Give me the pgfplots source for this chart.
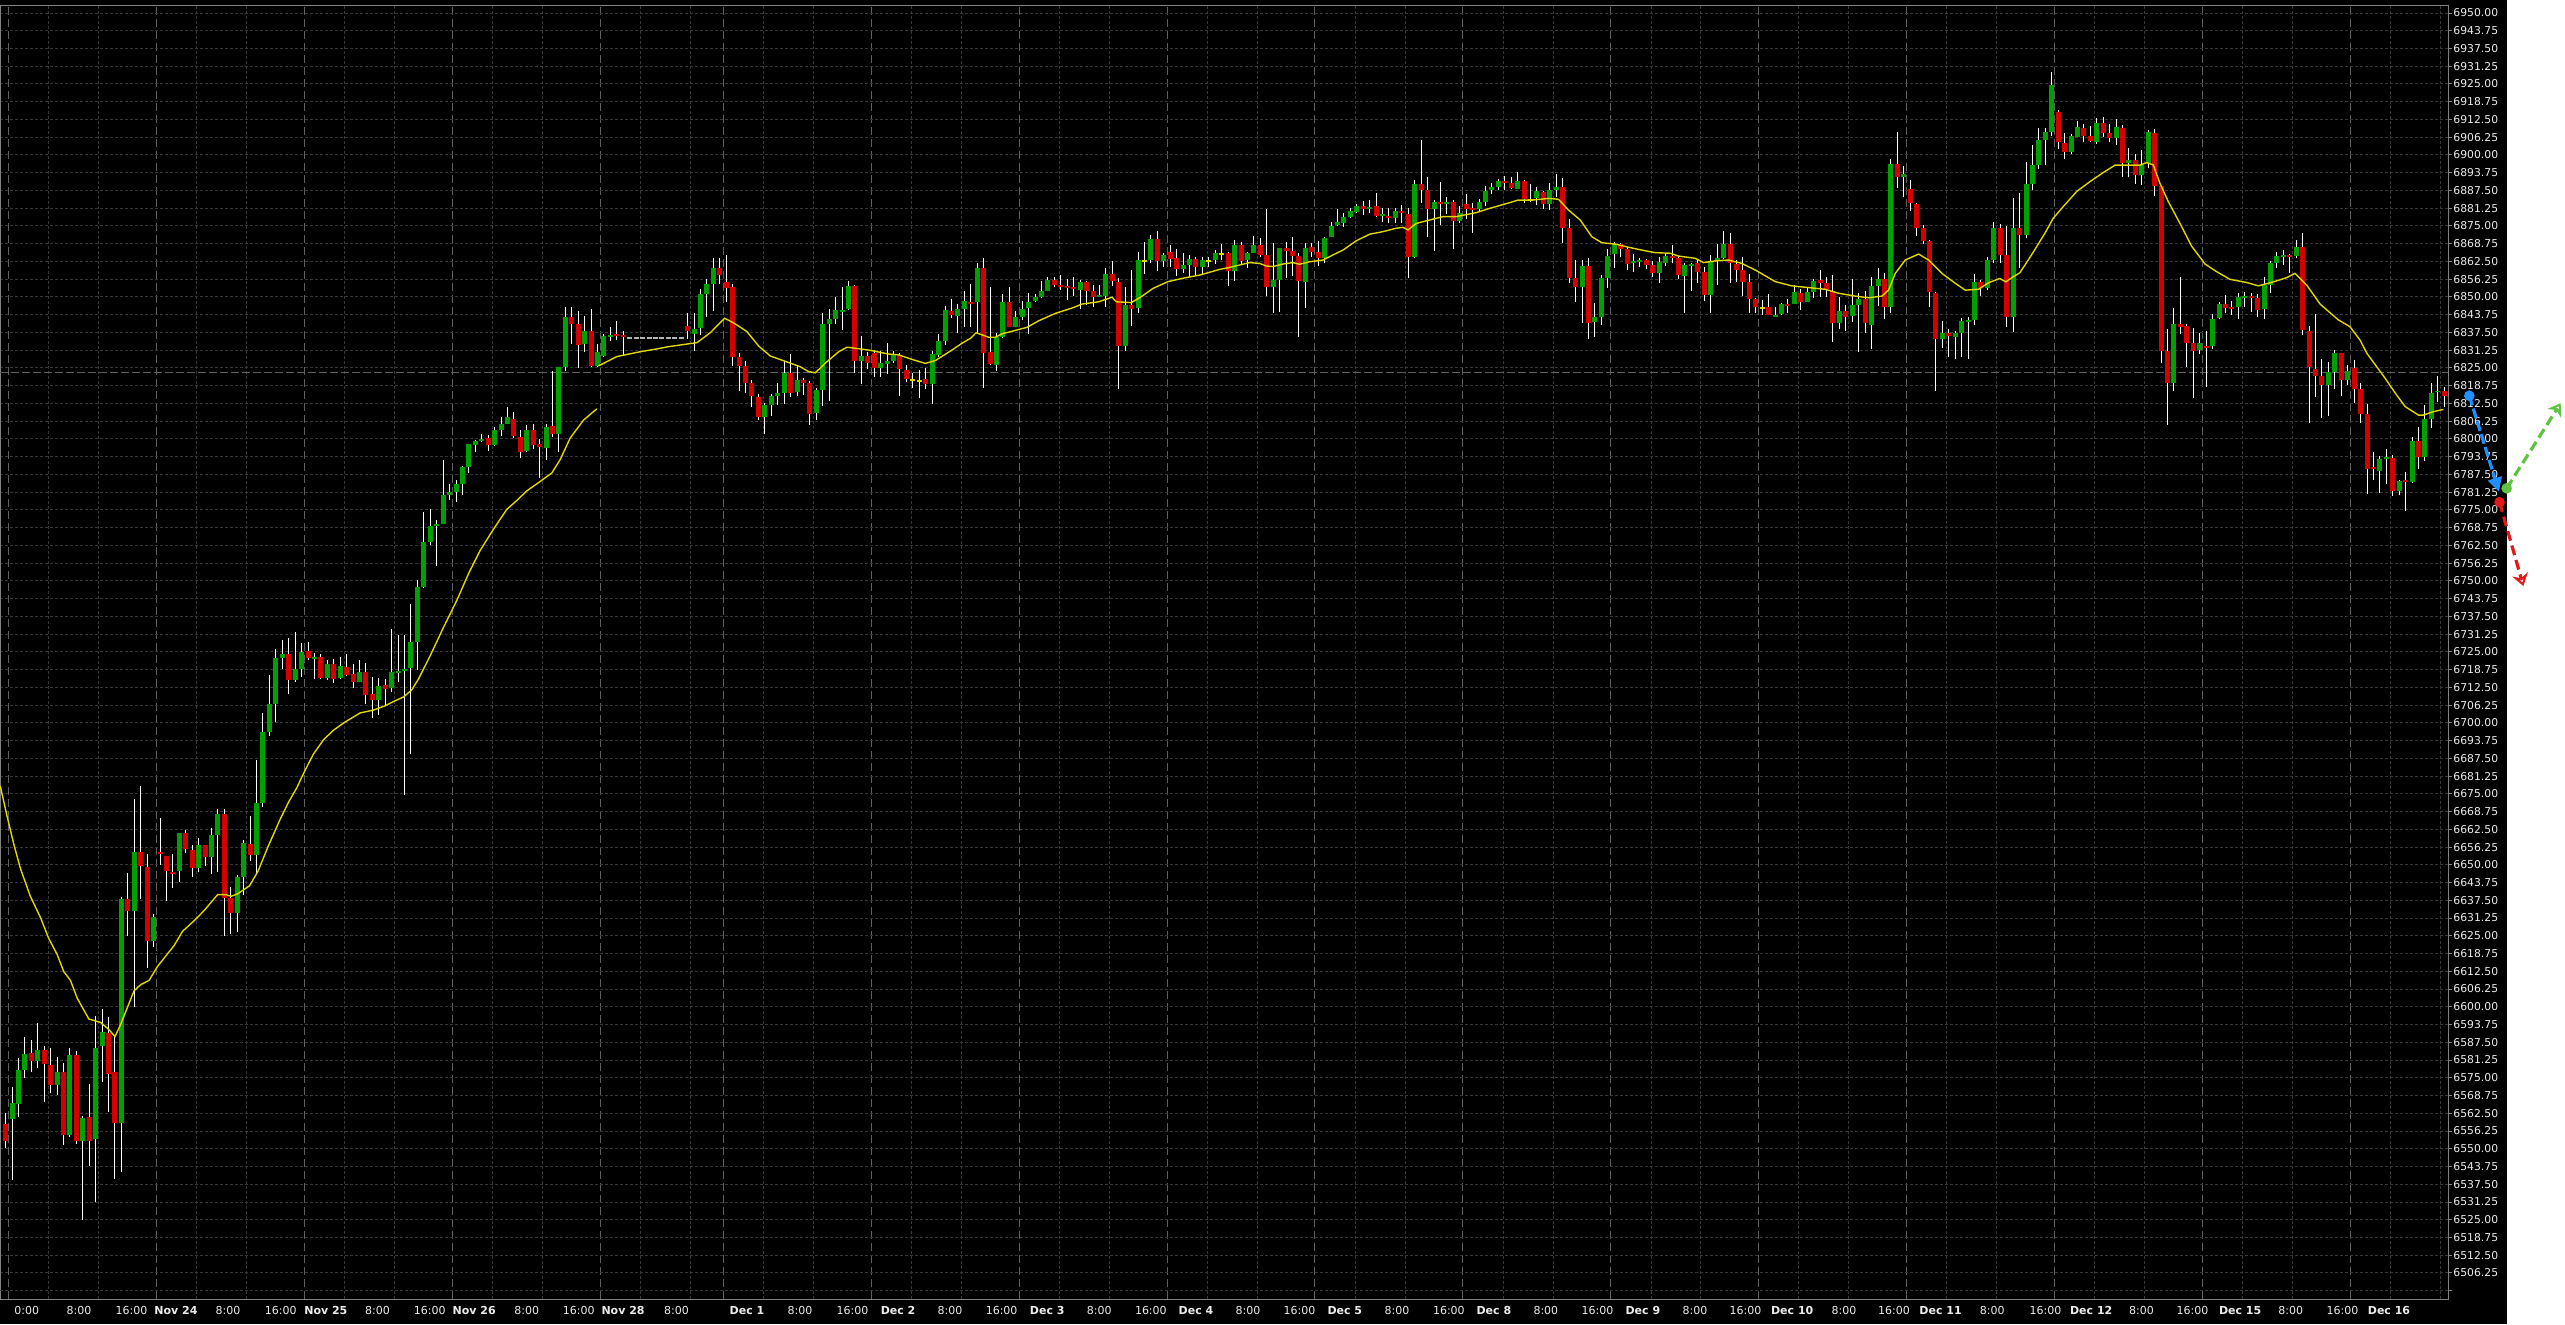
\documentclass[border=0pt]{standalone}
\usepackage{fontspec}
\setmainfont{DejaVu Sans}
\usepackage{pgfplots}
\pgfplotsset{compat=1.18}
\usepackage{pgfplotstable}
\usetikzlibrary{arrows.meta}
\definecolor{cgreen}{RGB}{0,160,0}
\definecolor{cred}{RGB}{212,0,0}
\definecolor{cma}{RGB}{225,215,0}
\definecolor{cgrid}{RGB}{55,55,55}
\definecolor{cday}{RGB}{95,95,95}
\definecolor{cframe}{RGB}{130,130,130}
\definecolor{clabel}{RGB}{235,235,235}
\definecolor{cflat}{RGB}{180,180,180}
\definecolor{ablue}{RGB}{30,144,255}
\definecolor{agreen}{RGB}{95,195,65}
\definecolor{ared}{RGB}{225,25,25}

\pgfplotstableread{
k o h l c
0 6558.6 6562.6 6550.2 6552.7
1 6560.4 6571.8 6538.9 6566.0
2 6565.8 6581.9 6561.3 6577.8
3 6577.8 6589.3 6575.1 6583.3
4 6583.8 6588.3 6576.9 6580.9
5 6580.9 6594.2 6578.4 6584.8
6 6584.8 6586.2 6566.3 6580.0
7 6579.5 6585.6 6569.5 6572.5
8 6572.5 6582.4 6569.1 6576.9
9 6576.9 6580.3 6551.5 6554.7
10 6554.7 6585.4 6554.3 6583.1
11 6583.1 6584.6 6551.8 6552.9
12 6552.9 6561.6 6524.9 6560.9
13 6561.1 6572.8 6544.0 6552.9
14 6553.4 6596.7 6531.4 6585.6
15 6586.1 6599.1 6573.4 6591.0
16 6590.8 6596.3 6562.8 6576.5
17 6576.9 6590.1 6539.5 6558.9
18 6558.9 6638.7 6541.8 6637.9
19 6637.9 6647.2 6625.1 6633.6
20 6633.9 6673.1 6600.1 6654.6
21 6654.6 6677.8 6637.9 6649.7
22 6649.3 6653.7 6613.8 6623.0
23 6623.0 6632.7 6621.0 6631.5
24 6654.6 6666.6 6650.0 6653.7
25 6653.0 6653.0 6637.2 6647.7
26 6647.7 6653.9 6642.0 6646.9
27 6647.7 6661.2 6643.9 6661.2
28 6661.2 6662.3 6654.0 6655.7
29 6655.2 6657.1 6645.7 6648.8
30 6648.8 6659.6 6647.6 6657.1
31 6657.1 6657.1 6649.7 6652.8
32 6652.8 6663.0 6646.7 6660.5
33 6660.5 6669.6 6647.6 6668.0
34 6668.0 6669.7 6625.1 6638.2
35 6638.2 6642.3 6625.6 6633.2
36 6633.0 6646.3 6626.2 6645.6
37 6645.7 6658.7 6639.3 6657.7
38 6657.5 6667.3 6651.5 6653.3
39 6653.6 6686.8 6646.6 6671.8
40 6671.8 6703.6 6670.2 6696.8
41 6696.8 6716.7 6695.5 6706.5
42 6706.5 6725.9 6700.2 6722.7
43 6722.8 6729.2 6718.8 6724.1
44 6724.1 6729.9 6710.0 6715.0
45 6715.0 6732.1 6714.5 6718.8
46 6718.8 6728.0 6716.3 6725.1
47 6725.4 6728.6 6722.3 6722.7
48 6722.6 6724.6 6715.4 6723.3
49 6723.3 6724.3 6715.4 6715.8
50 6715.8 6722.3 6715.0 6720.8
51 6720.8 6722.6 6714.0 6715.4
52 6715.8 6723.1 6715.4 6720.1
53 6719.8 6724.1 6716.5 6717.0
54 6717.3 6720.6 6712.3 6714.3
55 6714.3 6722.3 6714.3 6717.8
56 6718.0 6721.1 6706.5 6709.8
57 6710.0 6716.0 6701.7 6708.2
58 6707.9 6715.8 6702.7 6713.1
59 6713.5 6715.3 6706.0 6712.0
60 6712.3 6732.9 6711.0 6717.8
61 6717.5 6730.9 6714.5 6718.3
62 6718.3 6730.9 6674.6 6719.1
63 6719.2 6741.7 6688.9 6728.6
64 6728.6 6750.2 6718.6 6747.7
65 6747.7 6774.4 6747.5 6763.8
66 6763.8 6775.2 6762.8 6769.5
67 6769.4 6771.6 6755.3 6769.9
68 6769.9 6792.5 6769.9 6780.4
69 6780.4 6784.2 6778.4 6781.2
70 6781.2 6785.5 6777.9 6784.0
71 6784.0 6790.5 6780.2 6790.0
72 6790.0 6798.2 6788.0 6798.2
73 6797.8 6799.7 6795.5 6799.4
74 6799.5 6801.8 6799.0 6800.0
75 6800.3 6801.3 6795.9 6797.8
76 6797.8 6804.3 6797.5 6803.3
77 6803.1 6807.8 6800.9 6805.1
78 6805.1 6811.1 6805.1 6807.6
79 6807.1 6809.4 6800.3 6801.2
80 6800.8 6803.1 6793.2 6795.5
81 6795.8 6804.8 6795.5 6803.3
82 6803.3 6805.3 6796.3 6798.0
83 6798.2 6799.8 6786.2 6797.0
84 6796.8 6805.1 6792.7 6804.1
85 6804.4 6823.9 6800.5 6801.9
86 6801.9 6825.4 6795.3 6825.2
87 6825.2 6846.6 6823.9 6843.0
88 6843.0 6846.6 6833.6 6840.5
89 6840.5 6845.1 6824.9 6833.2
90 6833.6 6843.3 6830.5 6838.0
91 6838.0 6845.6 6825.2 6825.7
92 6825.7 6833.5 6825.4 6830.5
93 6829.2 6837.0 6829.0 6836.4
94 6836.0 6839.5 6834.5 6836.5
95 6837.0 6841.5 6834.8 6836.5
96 6836.2 6838.0 6829.5 6836.0
106 6839.8 6844.2 6835.3 6838.0
107 6837.1 6844.2 6831.1 6838.8
108 6839.2 6852.7 6836.5 6851.0
109 6851.0 6856.2 6843.1 6854.6
110 6854.6 6863.7 6845.2 6860.2
111 6860.2 6863.7 6854.6 6857.7
112 6855.3 6864.8 6848.2 6853.2
113 6853.4 6854.4 6825.8 6829.0
114 6829.0 6830.1 6816.9 6825.8
115 6825.8 6827.3 6816.1 6819.7
116 6819.7 6820.7 6811.3 6815.2
117 6814.6 6815.8 6806.7 6807.7
118 6807.7 6812.5 6801.9 6811.8
119 6811.8 6815.8 6808.2 6815.1
120 6815.1 6819.6 6811.9 6816.3
121 6816.1 6827.5 6812.2 6823.1
122 6823.1 6829.9 6814.9 6816.3
123 6816.5 6825.7 6815.1 6820.8
124 6820.8 6821.6 6815.6 6819.7
125 6819.7 6820.5 6805.0 6808.9
126 6809.1 6817.8 6806.7 6817.2
127 6817.2 6844.2 6811.7 6840.5
128 6840.5 6845.6 6813.4 6842.2
129 6842.2 6849.9 6840.5 6845.4
130 6845.0 6853.6 6838.4 6845.7
131 6845.7 6855.6 6845.4 6853.9
132 6853.9 6854.2 6823.1 6827.4
133 6827.4 6836.3 6819.3 6829.2
134 6829.2 6830.7 6824.6 6826.6
135 6830.4 6831.3 6821.7 6825.1
136 6825.1 6831.1 6821.9 6826.6
137 6826.4 6833.7 6822.9 6827.4
138 6827.4 6831.1 6826.6 6829.4
139 6829.4 6830.1 6815.2 6824.5
140 6824.3 6825.9 6820.2 6821.2
141 6820.7 6823.1 6817.9 6820.7
142 6820.4 6824.3 6814.3 6820.4
143 6821.1 6824.9 6817.5 6819.5
144 6819.5 6831.1 6812.2 6829.9
145 6829.7 6837.0 6829.0 6834.5
146 6834.5 6846.8 6833.1 6845.4
147 6845.0 6849.2 6842.7 6843.6
148 6843.3 6847.5 6837.2 6845.6
149 6845.6 6852.2 6839.3 6848.6
150 6848.3 6854.6 6839.5 6847.7
151 6848.3 6862.1 6837.2 6860.1
152 6860.1 6863.6 6817.8 6830.4
153 6830.6 6853.6 6826.0 6826.4
154 6826.2 6837.2 6824.0 6835.8
155 6835.8 6851.0 6835.7 6848.2
156 6848.2 6853.4 6839.3 6839.5
157 6839.5 6845.2 6839.3 6842.8
158 6842.8 6848.7 6841.9 6845.6
159 6846.2 6851.3 6837.0 6848.2
160 6848.5 6851.0 6848.1 6849.9
161 6849.9 6855.7 6849.5 6852.0
162 6852.0 6857.1 6852.0 6856.0
163 6856.0 6857.1 6853.6 6854.2
164 6854.2 6857.7 6852.5 6853.6
165 6853.9 6856.2 6848.9 6853.3
166 6853.5 6856.9 6850.3 6852.7
167 6852.4 6856.0 6845.6 6855.3
168 6855.3 6855.7 6847.2 6852.2
169 6852.1 6854.2 6846.3 6850.1
170 6850.0 6854.2 6849.9 6850.6
171 6850.3 6860.1 6846.6 6858.1
172 6858.1 6862.5 6853.9 6855.7
173 6855.3 6856.6 6817.5 6832.7
174 6832.7 6853.6 6831.1 6847.0
175 6847.0 6859.5 6839.8 6845.9
176 6846.2 6866.0 6844.5 6863.0
177 6862.8 6869.3 6858.1 6862.8
178 6863.0 6871.7 6862.1 6870.4
179 6870.4 6873.2 6859.2 6862.8
180 6862.8 6865.6 6860.7 6864.8
181 6865.8 6868.3 6860.7 6863.5
182 6863.7 6866.8 6857.4 6859.7
183 6859.7 6865.4 6858.6 6861.1
184 6861.1 6864.8 6856.9 6863.2
185 6863.2 6864.2 6857.4 6860.7
186 6860.7 6863.9 6858.1 6863.0
187 6862.8 6864.2 6860.7 6862.8
188 6863.0 6866.5 6861.6 6865.4
189 6865.2 6868.6 6863.0 6865.2
190 6865.6 6865.8 6854.0 6859.2
191 6859.2 6870.1 6855.7 6868.3
192 6868.3 6869.3 6861.6 6862.8
193 6863.0 6866.0 6860.1 6865.6
194 6865.6 6871.5 6865.6 6868.3
195 6868.3 6870.8 6864.2 6864.8
196 6864.8 6880.9 6850.3 6853.6
197 6853.6 6868.9 6844.5 6856.0
198 6856.0 6867.2 6844.8 6867.2
199 6867.2 6869.3 6856.6 6866.3
200 6866.2 6871.0 6857.4 6864.5
201 6864.5 6865.6 6836.0 6855.7
202 6855.4 6868.9 6846.0 6867.2
203 6867.6 6868.9 6864.2 6866.0
204 6866.0 6869.8 6860.9 6863.8
205 6863.8 6871.2 6861.8 6870.8
206 6871.0 6876.5 6871.0 6875.0
207 6875.2 6880.9 6875.0 6876.4
208 6876.2 6879.5 6874.7 6878.0
209 6878.0 6881.2 6877.8 6880.3
210 6880.0 6882.7 6879.7 6882.0
211 6882.0 6883.9 6878.9 6881.1
212 6881.1 6884.1 6879.4 6881.9
213 6881.9 6886.5 6878.3 6878.6
214 6878.6 6881.3 6876.5 6879.1
215 6878.7 6881.3 6875.9 6877.9
216 6877.9 6881.3 6875.9 6880.3
217 6880.3 6882.3 6875.9 6879.7
218 6879.2 6881.2 6856.6 6864.2
219 6864.2 6891.2 6863.6 6889.8
220 6889.8 6905.3 6883.2 6887.7
221 6887.7 6892.1 6871.0 6881.1
222 6881.1 6884.1 6866.3 6883.4
223 6883.4 6890.5 6875.3 6883.0
224 6883.0 6885.3 6879.2 6883.4
225 6883.4 6884.1 6866.8 6876.9
226 6876.9 6882.0 6876.2 6879.4
227 6882.6 6886.2 6877.3 6881.1
228 6881.3 6883.2 6872.6 6880.9
229 6881.1 6884.4 6880.4 6883.4
230 6883.4 6889.1 6882.0 6887.3
231 6887.8 6890.2 6886.2 6888.7
232 6888.7 6891.4 6887.7 6890.8
233 6890.8 6892.6 6887.7 6890.2
234 6890.2 6892.4 6887.9 6888.4
235 6888.1 6893.9 6887.9 6890.8
236 6890.8 6891.2 6883.2 6884.4
237 6884.1 6889.8 6883.4 6884.1
238 6884.8 6888.8 6882.4 6887.3
239 6887.0 6887.4 6881.1 6882.7
240 6882.7 6890.0 6880.6 6887.7
241 6887.6 6893.3 6885.3 6888.6
242 6888.6 6891.8 6869.1 6874.4
243 6874.4 6877.3 6855.0 6856.8
244 6856.8 6863.0 6848.3 6853.6
245 6853.6 6863.0 6840.9 6860.9
246 6860.9 6863.7 6835.1 6840.9
247 6841.1 6848.0 6836.0 6842.8
248 6842.8 6857.7 6840.1 6856.7
249 6856.7 6867.0 6853.0 6864.4
250 6865.1 6869.5 6860.1 6868.6
251 6868.6 6869.1 6864.0 6866.9
252 6866.9 6867.7 6859.5 6861.6
253 6862.1 6865.1 6858.8 6862.7
254 6862.4 6863.6 6860.7 6863.0
255 6863.0 6863.2 6859.9 6861.3
256 6861.3 6862.8 6857.1 6858.3
257 6858.3 6863.9 6855.0 6862.4
258 6862.1 6865.6 6860.9 6864.4
259 6864.2 6868.3 6861.8 6863.6
260 6863.6 6864.4 6856.2 6857.8
261 6857.5 6861.8 6844.5 6861.3
262 6861.0 6862.1 6852.2 6861.6
263 6861.8 6863.2 6855.0 6858.9
264 6858.8 6860.7 6848.7 6850.8
265 6850.8 6864.9 6844.5 6862.8
266 6863.0 6868.6 6854.2 6863.7
267 6863.7 6873.2 6863.2 6868.6
268 6868.6 6872.4 6855.0 6862.1
269 6861.6 6863.0 6855.4 6859.5
270 6859.5 6863.9 6850.3 6855.4
271 6855.3 6858.1 6844.5 6849.4
272 6849.2 6849.5 6844.5 6846.6
273 6846.2 6848.9 6843.6 6846.2
274 6846.3 6851.0 6843.6 6843.6
275 6843.2 6846.3 6843.0 6843.6
276 6844.0 6848.0 6843.6 6847.5
277 6847.5 6849.2 6844.5 6847.0
278 6847.5 6854.2 6847.5 6851.7
279 6851.5 6852.7 6845.4 6848.3
280 6848.2 6853.4 6848.2 6851.7
281 6851.7 6856.4 6849.8 6855.6
282 6856.0 6859.5 6850.1 6854.8
283 6854.8 6857.1 6850.1 6852.7
284 6852.2 6857.7 6834.2 6840.9
285 6840.9 6850.1 6838.8 6844.9
286 6844.9 6847.0 6838.1 6843.1
287 6843.3 6856.3 6841.3 6847.0
288 6847.1 6851.3 6830.7 6849.2
289 6849.2 6852.2 6837.4 6840.7
290 6840.2 6856.9 6831.8 6853.8
291 6853.8 6860.1 6846.8 6856.2
292 6856.2 6858.3 6842.1 6846.6
293 6846.6 6898.5 6844.5 6896.8
294 6896.8 6908.1 6888.2 6892.4
295 6892.4 6896.1 6885.1 6893.3
296 6887.9 6891.2 6880.4 6883.0
297 6882.7 6883.2 6871.5 6874.4
298 6874.4 6875.2 6868.6 6869.7
299 6869.7 6870.1 6846.3 6851.9
300 6851.3 6851.7 6817.0 6835.3
301 6835.3 6841.4 6832.0 6837.4
302 6837.4 6838.6 6829.0 6836.4
303 6836.0 6838.1 6828.3 6837.4
304 6837.4 6842.5 6828.7 6841.5
305 6841.2 6842.8 6828.3 6841.9
306 6841.9 6858.1 6840.1 6855.1
307 6855.4 6856.0 6850.3 6853.0
308 6853.0 6864.2 6852.4 6863.0
309 6863.0 6876.5 6861.8 6874.2
310 6874.2 6875.7 6862.1 6864.7
311 6864.7 6875.0 6839.3 6843.1
312 6843.1 6885.0 6837.8 6874.2
313 6874.2 6886.7 6860.1 6871.8
314 6871.8 6897.6 6870.6 6889.8
315 6889.8 6903.5 6887.7 6896.5
316 6896.5 6909.4 6894.9 6905.3
317 6905.3 6909.4 6896.5 6908.2
318 6908.2 6929.2 6906.7 6924.6
319 6915.1 6915.8 6902.0 6904.4
320 6904.1 6907.6 6898.5 6901.2
321 6901.2 6907.3 6900.4 6906.7
322 6906.4 6912.1 6906.2 6909.7
323 6909.5 6910.9 6904.4 6906.7
324 6906.7 6910.2 6904.4 6905.0
325 6904.7 6913.0 6903.9 6911.1
326 6911.1 6913.3 6906.2 6907.6
327 6907.6 6910.9 6904.4 6905.9
328 6905.9 6912.6 6903.5 6909.7
329 6909.5 6910.4 6892.1 6897.3
330 6897.3 6902.3 6892.1 6898.2
331 6898.2 6900.3 6889.8 6893.1
332 6893.1 6901.8 6889.5 6896.4
333 6897.1 6908.8 6895.3 6908.1
334 6907.6 6909.0 6885.7 6889.1
335 6889.1 6889.1 6826.6 6831.1
336 6831.1 6838.6 6805.0 6819.8
337 6819.6 6846.2 6816.8 6840.5
338 6840.5 6856.9 6837.0 6839.5
339 6839.8 6840.5 6825.4 6833.9
340 6833.9 6838.9 6814.5 6831.1
341 6831.3 6837.2 6829.9 6833.7
342 6832.8 6838.1 6818.4 6832.3
343 6832.8 6844.0 6831.5 6842.1
344 6842.7 6848.2 6842.1 6847.5
345 6847.5 6850.6 6844.2 6846.1
346 6846.5 6848.7 6843.6 6845.9
347 6846.5 6851.5 6842.1 6849.9
348 6849.9 6851.9 6846.6 6850.3
349 6850.3 6851.5 6844.8 6849.9
350 6849.7 6851.0 6843.1 6845.4
351 6845.8 6856.9 6842.1 6854.3
352 6854.3 6862.8 6851.5 6861.8
353 6862.1 6865.8 6860.1 6864.4
354 6864.2 6866.5 6861.3 6864.8
355 6864.5 6865.1 6858.6 6864.2
356 6864.5 6870.1 6863.6 6867.7
357 6867.5 6872.6 6836.6 6838.4
358 6838.0 6839.8 6805.7 6825.2
359 6824.6 6844.0 6814.9 6822.2
360 6822.2 6828.0 6807.5 6818.9
361 6818.9 6827.2 6808.1 6823.6
362 6823.6 6831.3 6817.5 6830.1
363 6830.1 6830.4 6815.1 6820.7
364 6820.7 6826.0 6819.0 6823.8
365 6824.9 6827.8 6812.5 6817.7
366 6817.5 6819.6 6805.5 6808.8
367 6808.8 6812.3 6780.6 6789.3
368 6789.9 6795.5 6785.5 6789.3
369 6788.8 6794.0 6781.1 6792.9
370 6793.0 6796.3 6784.1 6793.7
371 6793.3 6794.3 6779.9 6781.5
372 6781.8 6785.5 6780.1 6785.1
373 6785.5 6788.5 6774.7 6784.9
374 6784.9 6800.6 6784.6 6799.3
375 6799.3 6804.1 6789.5 6793.5
376 6793.5 6811.9 6792.3 6806.9
377 6806.9 6819.6 6804.0 6816.3
378 6816.5 6822.2 6813.1 6817.2
379 6817.0 6818.2 6811.1 6815.2
}\candles

\pgfplotstableread{
k p
97 6835.5
98 6835.5
99 6835.5
100 6835.5
101 6835.5
102 6835.5
103 6835.5
104 6835.5
105 6835.5
}\flat

\begin{document}
\begin{tikzpicture}[x=1pt,y=1pt]
\fill[white] (0,0) rectangle (1282.5,662);
\fill[black] (0,0) rectangle (1253.5,662);
\begin{axis}[
  at={(0pt,12.5pt)}, anchor=south west,
  scale only axis, width=1224pt, height=646.5pt,
  xmin=-0.87, xmax=379.6, ymin=6497.09, ymax=6952.47,
  clip=false,
  axis line style={cframe, line width=0.5pt},
  scaled y ticks=false,
  /pgf/number format/assume math mode=true,
  ytick={6506.25,6512.5,...,6950},
  extra y ticks={6500}, extra y tick labels={},
  ytick pos=right, yticklabel pos=right,
  ytick align=outside, major tick length=2pt,
  ytick style={cframe, line width=0.5pt},
  yticklabel style={font=\fontsize{5.4}{6}\selectfont, text=clabel, anchor=west, inner sep=0pt, xshift=0.5pt,
    /pgf/number format/fixed, /pgf/number format/fixed zerofill, /pgf/number format/precision=2, /pgf/number format/1000 sep={}},
  ymajorgrids,
  major y grid style={cgrid, line width=0.5pt, dash pattern=on 1.5pt off 1pt},
  xtick={0.5,23.5,46.5,69.5,92.5,111.5,134.5,157.5,180.5,203.5,226.5,249.5,272.5,295.5,318.5,341.5,364.5},
  xticklabels={},
  xmajorgrids,
  major x grid style={cday, line width=0.5pt, dash pattern=on 4pt off 2pt},
  minor xtick={6.72,14.49,29.72,37.49,52.72,60.49,75.72,83.49,98.72,106.49,117.72,125.49,140.72,148.49,163.72,171.49,186.72,194.49,209.72,217.49,232.72,240.49,255.72,263.49,278.72,286.49,301.72,309.49,324.72,332.49,347.72,355.49,370.72,378.49},
  xminorgrids,
  minor x grid style={cgrid, line width=0.5pt, dash pattern=on 1.5pt off 1pt},
  xtick style={draw=none},
  minor tick length=0pt,
  extra x ticks={3.28,11.41,19.57,26.48,34.57,42.76,49.77,57.80,65.92,72.83,80.99,89.07,95.96,104.27,115.23,123.47,131.61,138.70,146.78,154.80,161.89,169.96,177.99,185.00,193.08,201.10,208.14,216.23,224.31,231.30,239.38,247.42,254.46,262.57,270.42,277.67,285.73,293.49,300.73,308.74,317.02,324.14,331.94,339.87,347.28,355.16,363.18,370.42},
  extra x tick labels={0:00,8:00,16:00,\textbf{Nov 24},8:00,16:00,\textbf{Nov 25},8:00,16:00,\textbf{Nov 26},8:00,16:00,\textbf{Nov 28},8:00,\textbf{Dec 1},8:00,16:00,\textbf{Dec 2},8:00,16:00,\textbf{Dec 3},8:00,16:00,\textbf{Dec 4},8:00,16:00,\textbf{Dec 5},8:00,16:00,\textbf{Dec 8},8:00,16:00,\textbf{Dec 9},8:00,16:00,\textbf{Dec 10},8:00,16:00,\textbf{Dec 11},8:00,16:00,\textbf{Dec 12},8:00,16:00,\textbf{Dec 15},8:00,16:00,\textbf{Dec 16}},
  extra x tick style={grid=none, major tick length=0pt,
    xticklabel style={font=\fontsize{5.5}{6}\selectfont, text=clabel, anchor=north, inner sep=0pt, yshift=-3.5pt}},
]
% reference level line
\addplot[cday, line width=0.5pt, dash pattern=on 4pt off 1.5pt, forget plot] coordinates {(-0.87,6823.4) (379.6,6823.4)};
% wicks (low to high)
\addplot[forget plot, white, line width=0.5pt, quiver={u=0, v={max(\thisrow{h}-\thisrow{l},0.4)}}]
  table[x=k, y=l]{\candles};
% green bodies
\addplot[forget plot, cgreen, line width=2.5pt,
  restrict expr to domain={\thisrow{c}-\thisrow{o}}{0.001:10000},
  quiver={u=0, v={max(\thisrow{c}-\thisrow{o},0.7)}}]
  table[x=k, y expr={min(\thisrow{o},(\thisrow{o}+\thisrow{c})/2-0.35)}]{\candles};
% red bodies
\addplot[forget plot, cred, line width=2.5pt,
  restrict expr to domain={\thisrow{o}-\thisrow{c}}{0.001:10000},
  quiver={u=0, v={max(\thisrow{o}-\thisrow{c},0.7)}}]
  table[x=k, y expr={min(\thisrow{c},(\thisrow{o}+\thisrow{c})/2-0.35)}]{\candles};
% doji bodies
\addplot[forget plot, cma, line width=2.5pt,
  restrict expr to domain={abs(\thisrow{c}-\thisrow{o})}{-0.001:0.001},
  quiver={u=0, v=0.7}]
  table[x=k, y expr={\thisrow{o}-0.35}]{\candles};
% flat (no-trade) candles
\addplot[forget plot, cflat, line width=2.5pt, quiver={u=0, v=0.7}]
  table[x=k, y expr={\thisrow{p}-0.35}]{\flat};
% moving average, two segments
\addplot[cma, line width=0.7pt, forget plot] coordinates {
(-0.83,6677.8) (0.21,6667.3) (1.25,6657.5) (2.29,6648.8) (3.85,6638.9) (5.41,6631.5) (6.70,6624.1) (8.00,6618.5) (9.04,6612.4) (10.08,6609.3) (11.12,6603.1) (12.94,6595.7) (14.76,6594.5) (16.06,6592.0) (17.00,6589.5) (17.88,6593.8) (19.96,6605.6) (21.00,6607.8) (22.30,6609.3) (23.60,6614.2) (26.20,6621.6) (27.50,6626.6) (29.30,6630.3) (30.90,6634.0) (32.95,6639.5) (34.25,6639.5) (35.03,6638.9) (36.07,6639.8) (37.90,6642.6) (39.20,6647.6) (40.75,6656.2) (42.66,6666.0) (43.96,6672.0) (45.25,6677.1) (46.55,6683.3) (47.84,6689.0) (49.40,6694.0) (50.95,6697.4) (52.77,6700.3) (55.10,6703.5) (57.17,6704.5) (58.98,6706.0) (60.28,6707.5) (61.83,6709.1) (63.13,6711.6) (64.16,6715.4) (65.98,6723.6) (68.05,6733.6) (70.12,6743.1) (71.94,6752.5) (73.75,6760.7) (75.82,6768.2) (77.90,6775.2) (79.45,6778.3) (81.00,6781.7) (82.82,6784.6) (84.89,6788.0) (86.19,6792.7) (87.74,6800.3) (89.81,6806.6) (91.89,6810.6)};
\addplot[cma, line width=0.7pt, forget plot] coordinates {
(92.14,6825.7) (94.99,6829.0) (98.62,6830.7) (101.21,6831.7) (103.05,6832.5) (107.45,6833.9) (109.52,6837.4) (111.75,6842.5) (113.41,6840.5) (115.22,6837.8) (117.04,6832.7) (118.85,6829.2) (121.70,6826.9) (123.51,6825.4) (124.81,6823.7) (125.84,6823.3) (127.66,6827.2) (129.47,6830.7) (130.77,6832.3) (134.13,6831.3) (137.24,6829.9) (138.80,6829.6) (140.87,6828.0) (142.94,6826.6) (144.50,6827.6) (147.09,6831.3) (148.64,6833.7) (149.94,6835.4) (150.82,6837.4) (152.79,6835.8) (153.82,6835.8) (154.86,6837.0) (158.75,6839.3) (160.56,6841.6) (163.15,6844.2) (166.00,6846.3) (167.30,6847.5) (169.89,6848.3) (171.96,6849.9) (172.62,6848.3) (174.95,6848.0) (176.51,6850.1) (178.32,6853.0) (180.65,6855.4) (182.98,6856.6) (185.58,6857.7) (188.68,6859.7) (190.24,6860.4) (193.35,6862.1) (194.90,6861.8) (195.94,6860.9) (196.98,6860.7) (198.53,6861.6) (200.08,6862.1) (201.12,6861.5) (202.67,6862.4) (204.75,6863.0) (206.30,6864.8) (207.85,6866.5) (209.93,6869.8) (212.00,6872.1) (214.07,6873.0) (216.15,6874.2) (217.18,6874.5) (217.96,6873.6) (219.25,6875.9) (221.33,6877.1) (223.40,6878.3) (225.47,6878.3) (228.58,6879.7) (230.65,6881.2) (233.76,6883.2) (235.06,6884.1) (237.13,6884.1) (238.94,6884.5) (239.79,6884.7) (241.35,6884.4) (242.90,6880.6) (244.72,6877.1) (246.53,6871.2) (248.08,6869.1) (250.16,6868.6) (252.23,6867.5) (254.30,6866.5) (256.37,6865.6) (258.70,6865.4) (260.00,6864.4) (262.59,6863.6) (263.89,6862.1) (265.70,6862.7) (267.77,6863.0) (269.84,6861.8) (271.92,6859.5) (275.03,6855.4) (277.62,6853.9) (280.21,6853.3) (282.80,6852.7) (284.87,6851.3) (287.46,6850.3) (289.53,6849.7) (291.61,6850.3) (292.64,6852.4) (293.68,6858.3) (295.23,6863.0) (297.31,6865.1) (298.86,6863.0) (300.93,6858.3) (303.01,6854.8) (304.56,6852.4) (306.63,6852.7) (308.19,6855.0) (309.93,6856.5) (310.87,6855.3) (312.01,6857.1) (313.04,6858.5) (314.86,6864.8) (316.93,6872.4) (318.23,6877.7) (319.78,6881.8) (321.86,6887.1) (323.93,6890.6) (326.00,6893.8) (327.82,6896.4) (331.71,6896.4) (332.74,6897.3) (333.78,6896.5) (334.82,6890.0) (336.11,6883.6) (337.93,6875.9) (339.74,6867.9) (341.82,6861.6) (343.63,6858.9) (345.70,6856.2) (348.29,6855.1) (350.11,6853.9) (352.44,6855.3) (354.52,6856.8) (355.81,6858.3) (357.63,6854.2) (359.70,6847.5) (362.55,6841.9) (364.36,6839.5) (365.92,6834.8) (366.96,6830.2) (369.55,6822.2) (371.62,6815.4) (372.92,6811.4) (374.99,6808.4) (375.77,6808.4) (377.32,6809.6) (378.88,6810.4)};
% projection arrows
\addplot[ablue, line width=1.6pt, dash pattern=on 5pt off 1.7pt, -{Triangle[length=7pt,width=7pt]}, mark=*, mark indices={1}, mark size=1.8pt, mark options={solid, fill=ablue}, forget plot]
  coordinates {(382.9,6815.2) (387.5,6781.4)};
\addplot[agreen, line width=1.6pt, dash pattern=on 5pt off 2.5pt, -{Stealth[length=6pt,width=8pt,open]}, mark=*, mark indices={1}, mark size=1.8pt, mark options={solid, fill=agreen}, forget plot]
  coordinates {(388.7,6782.6) (397.1,6812.6)};
\addplot[ared, line width=1.6pt, dash pattern=on 5pt off 2.5pt, -{Stealth[length=6pt,width=8pt,open]}, mark=*, mark indices={1}, mark size=1.8pt, mark options={solid, fill=ared}, forget plot]
  coordinates {(387.6,6777.7) (391.3,6748.2)};
\end{axis}
\pgfresetboundingbox
\path[use as bounding box] (0,0) rectangle (1282.5,662);
\end{tikzpicture}
\end{document}
